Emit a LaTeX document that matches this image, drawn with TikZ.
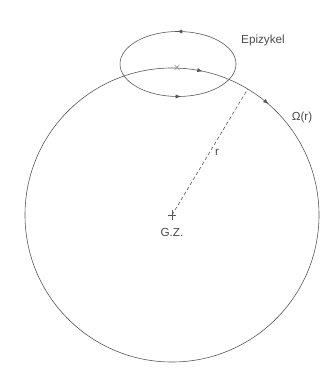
\documentclass[tikz,border=0pt]{standalone}
\usepackage{fontspec}
\setsansfont{Liberation Sans}
\usetikzlibrary{arrows.meta, calc}
\definecolor{orbitgray}{RGB}{85,85,85}
\definecolor{labelgray}{RGB}{75,75,75}

\begin{document}
\begin{tikzpicture}[x=0.03cm, y=0.03cm, >=Latex,
  orbit/.style={orbitgray, line width=0.5pt},
  flowtip/.style={orbitgray, line width=0.5pt, -{Latex[length=4.5pt, width=3.5pt]}},
  lbl/.style={labelgray, font=\sffamily}]

  \useasboundingbox (0,0) rectangle (324,369);

  % Deferent round the galactic centre
  \coordinate (gz) at (172,154);
  \draw[orbit] (gz) circle[radius=147];
  \draw[orbit] ($(gz)+(-4,0)$) -- ($(gz)+(4,0)$);
  \draw[orbit] ($(gz)+(0,-5)$) -- ($(gz)+(0,5)$);
  \node[lbl] (gzlabel) at (172,137) {G.Z.};
  % sense of rotation (clockwise)
  \foreach \a in {80, 51} {
    \draw[flowtip] ($(gz)+(\a:147)$) arc[start angle=\a, end angle=\a-2, radius=147];
  }
  \node[lbl] (omega) at (302,252) {Ω(r)};

  % radius r
  \coordinate (rim) at ($(gz)+(59:147)$);
  \draw[orbit, densely dashed] (gz) -- (rim) node[lbl, pos=0.5, right=1pt] (rlabel) {r};

  % Epicycle
  \coordinate (epi) at (178,305);
  \draw[orbit] (epi) ellipse[x radius=58, y radius=32.5];
  \node[orbitgray, inner sep=0pt, font=\small] (guide) at (177,301) {$\times$};
  \draw[flowtip] ($(epi)+(3,32.5)$) -- ($(epi)+(-1,32.5)$);
  \draw[flowtip] ($(epi)+(-1,-32.5)$) -- ($(epi)+(3,-32.5)$);
  \node[lbl] (epilabel) at (263,329) {Epizykel};

\end{tikzpicture}
\end{document}
